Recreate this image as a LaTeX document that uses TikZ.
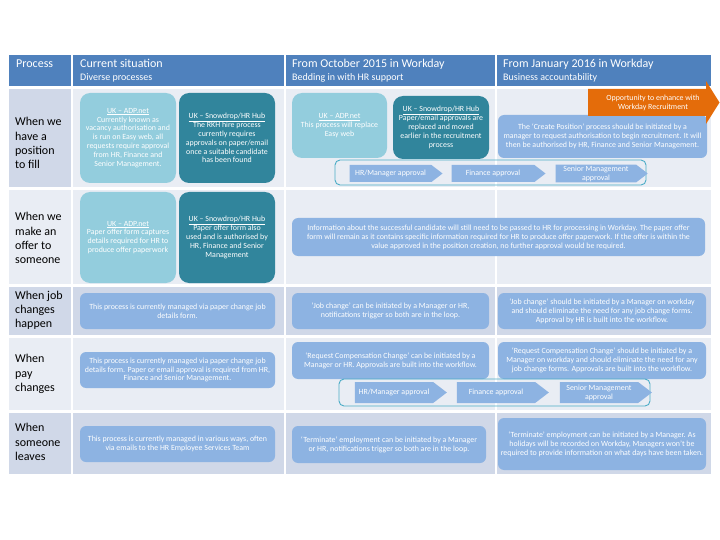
\documentclass[tikz,border=0pt]{standalone}
\usepackage{fontspec}
\setmainfont{Carlito}
\usetikzlibrary{shapes.symbols}
\definecolor{hdr}{HTML}{4F81BD}
\definecolor{cellL}{HTML}{E9EDF4}
\definecolor{cellD}{HTML}{D0D8E8}
\definecolor{tealL}{HTML}{93CDDD}
\definecolor{tealD}{HTML}{31859C}
\definecolor{boxB}{HTML}{8DB3E2}
\definecolor{stripC}{HTML}{4BACC6}
\definecolor{orng}{HTML}{E46C0A}
\tikzset{
 txt/.style={font=\fontsize{7.9}{8.9}\selectfont, text=white, align=center},
 rbox/.style={txt, rounded corners=6pt, inner sep=1pt},
 lteal/.style={rbox, fill=tealL, rounded corners=10pt},
 dteal/.style={rbox, fill=tealD, rounded corners=10pt},
 bbox/.style={rbox, fill=boxB},
 chev/.style={signal, signal to=east, signal pointer angle=75, fill=boxB, txt, inner sep=1pt},
 strip/.style={draw=stripC, line width=0.9pt, rounded corners=5pt, inner sep=0},
 hdrtitle/.style={font=\fontsize{12}{14}\selectfont, text=white, anchor=base west, inner sep=0},
 hdrsub/.style={font=\fontsize{10}{12}\selectfont, text=white, anchor=base west, inner sep=0},
 rowlab/.style={font=\fontsize{12}{14.2}\selectfont, align=left, anchor=west, inner sep=0},
}
\begin{document}
\begin{tikzpicture}[x=1pt,y=-1pt]
\useasboundingbox[fill=white] (0,0) rectangle (720,540);
% header band
\fill[hdr] (9,55) rectangle (71,86);
\fill[hdr] (73,55) rectangle (284,86);
\fill[hdr] (286,55) rectangle (495,86);
\fill[hdr] (497,55) rectangle (711,86);
% first column cells
\fill[cellD] (9,89) rectangle (71,187);
\fill[cellL] (9,190) rectangle (71,284);
\fill[cellD] (9,287) rectangle (71,335);
\fill[cellL] (9,338) rectangle (71,410);
\fill[cellD] (9,413) rectangle (71,474);
% other cells
\foreach \xa/\xb in {73/284,286/495,497/711}{
 \fill[cellL] (\xa,89) rectangle (\xb,187);
 \fill[cellL] (\xa,190) rectangle (\xb,284);
 \fill[cellD] (\xa,287) rectangle (\xb,335);
 \fill[cellL] (\xa,338) rectangle (\xb,410);
 \fill[cellD] (\xa,413) rectangle (\xb,474);
}
% header texts
\node[hdrtitle] (hp) at (16,68) {Process};
\node[hdrtitle] (hc) at (80,68) {Current situation};
\node[hdrsub] (hcs) at (80,80.5) {Diverse processes};
\node[hdrtitle] (ho) at (292,68) {From October 2015 in Workday};
\node[hdrsub] (hos) at (292,80.5) {Bedding in with HR support};
\node[hdrtitle] (hj) at (503,68) {From January 2016 in Workday};
\node[hdrsub] (hjs) at (503,80.5) {Business accountability};
% row labels
\node[rowlab] (l1) at (15,143) {When we\\have a\\position\\to fill};
\node[rowlab] (l2) at (15,238) {When we\\make an\\offer to\\someone};
\node[rowlab] (l3) at (15,310) {When job\\changes\\happen};
\node[rowlab] (l4) at (15,374) {When\\pay\\changes};
\node[rowlab] (l5) at (15,442) {When\\someone\\leaves};
% row 1
\node[lteal, minimum width=96pt, minimum height=90pt] (a1) at (128,138) {\underline{UK – ADP.net}\\Currently known as\\vacancy authorisation and\\is run on Easy web, all\\requests require approval\\from HR, Finance and\\Senior Management.};
\node[dteal, minimum width=96pt, minimum height=90pt] (b1) at (227,138) {\underline{UK – Snowdrop/HR Hub}\\The RKH hire process\\currently requires\\approvals on paper/email\\once a suitable candidate\\has been found};
\node[lteal, minimum width=95pt, minimum height=65pt] (c1) at (339.5,125.5) {\underline{UK – ADP.net}\\This process will replace\\Easy web};
\node[dteal, minimum width=96pt, minimum height=63pt] (d1) at (441,127.5) {\underline{UK – Snowdrop/HR Hub}\\Paper/email approvals are\\replaced and moved\\earlier in the recruitment\\process};
\node[bbox, minimum width=209pt, minimum height=43pt] (e1) at (602.5,136.5) {The ‘Create Position’ process should be initiated by a\\manager to request authorisation to begin recruitment. It will\\then be authorised by HR, Finance and Senior Management.};
\node[strip, minimum width=311pt, minimum height=25pt] (s1) at (490.5,172.5) {};
\node[chev, minimum width=93pt, minimum height=17pt] (s1a) at (390.5,173.5) {HR/Manager approval};
\node[chev, minimum width=94pt, minimum height=17pt] (s1b) at (493,173.5) {Finance approval};
\node[chev, minimum width=92pt, minimum height=17pt] (s1c) at (596,173.5) {Senior Management\\approval};
\fill[orng] (588,89) -- (706,89) -- (706,81) -- (719.5,102.5) -- (706,124) -- (706,116) -- (588,116) -- cycle;
\node[txt] (op) at (653,102.5) {Opportunity to enhance with\\Workday Recruitment};
% row 2
\node[lteal, minimum width=96pt, minimum height=91pt] (a2) at (128,237.5) {\underline{UK – ADP.net}\\Paper offer form captures\\details required for HR to\\produce offer paperwork};
\node[dteal, minimum width=96pt, minimum height=91pt] (b2) at (227,237.5) {\underline{UK – Snowdrop/HR Hub}\\Paper offer form also\\used and is authorised by\\HR, Finance and Senior\\Management};
\node[bbox, minimum width=413pt, minimum height=38pt] (w2) at (498.5,237) {Information about the successful candidate will still need to be passed to HR for processing in Workday. The paper offer\\form will remain as it contains specific information required for HR to produce offer paperwork. If the offer is within the\\value approved in the position creation, no further approval would be required.};
% row 3
\node[bbox, minimum width=195pt, minimum height=36pt] (a3) at (177.5,311) {This process is currently managed via paper change job\\details form.};
\node[bbox, minimum width=197pt, minimum height=36pt] (o3) at (390.5,311) {‘Job change’ can be initiated by a Manager or HR,\\notifications trigger so both are in the loop.};
\node[bbox, minimum width=208pt, minimum height=36pt] (j3) at (602,311) {‘Job change’ should be initiated by a Manager on workday\\and should eliminate the need for any job change forms.\\Approval by HR is built into the workflow.};
% row 4
\node[bbox, minimum width=195pt, minimum height=36pt] (a4) at (177.5,370) {This process is currently managed via paper change job\\details form. Paper or email approval is required from HR,\\Finance and Senior Management.};
\node[bbox, minimum width=197pt, minimum height=37pt] (o4) at (390.5,360.5) {‘Request Compensation Change’ can be initiated by a\\Manager or HR. Approvals are built into the workflow.};
\node[bbox, minimum width=208pt, minimum height=37pt] (j4) at (602,360.5) {‘Request Compensation Change’ should be initiated by a\\Manager on workday and should eliminate the need for any\\job change forms. Approvals are built into the workflow.};
\node[strip, minimum width=311pt, minimum height=27pt] (s2) at (494.5,392.5) {};
\node[chev, minimum width=92pt, minimum height=21pt] (s2a) at (394,392.5) {HR/Manager approval};
\node[chev, minimum width=92pt, minimum height=21pt] (s2b) at (496,392.5) {Finance approval};
\node[chev, minimum width=92pt, minimum height=21pt] (s2c) at (599,392.5) {Senior Management\\approval};
% row 5
\node[bbox, minimum width=195pt, minimum height=36pt] (a5) at (177.5,444) {This process is currently managed in various ways, often\\via emails to the HR Employee Services Team};
\node[bbox, minimum width=194pt, minimum height=37pt] (o5) at (389,444.5) {‘Terminate’ employment can be initiated by a Manager\\or HR, notifications trigger so both are in the loop.};
\node[bbox, minimum width=208pt, minimum height=52pt] (j5) at (602,444) {‘Terminate’ employment can be initiated by a Manager. As\\holidays will be recorded on Workday, Managers won’t be\\required to provide information on what days have been taken.};
\end{tikzpicture}
\end{document}
